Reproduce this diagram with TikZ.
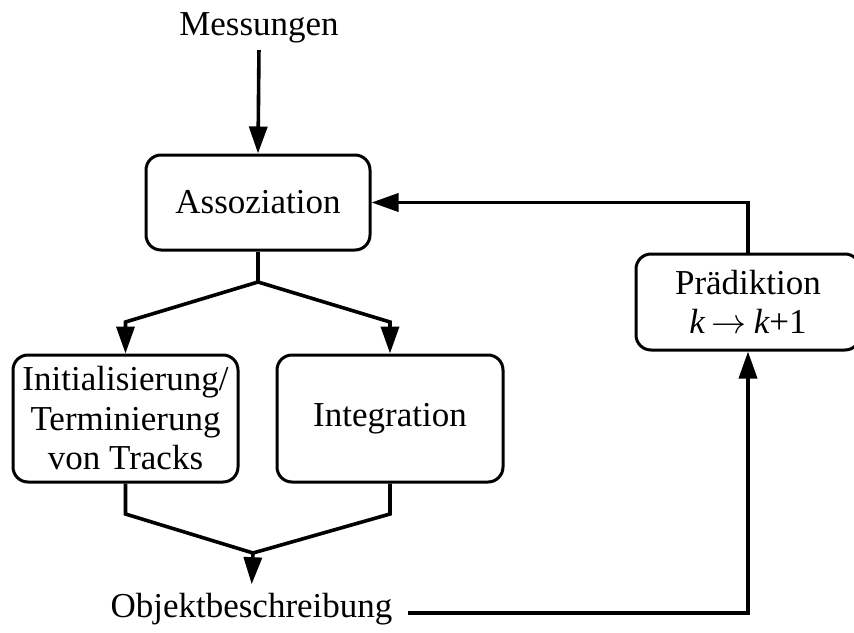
\RequirePackage{fix-cm}
\documentclass[tikz,border=0pt]{standalone}
\usepackage{fontspec}
\setmainfont{Liberation Serif}
\usetikzlibrary{arrows.meta}
\begin{document}
\begin{tikzpicture}[x=1pt,y=-1pt,
  every node/.style={font=\fontsize{35}{39.5}\selectfont, align=center},
  blockbox/.style={draw, line width=3pt, rounded corners=15pt, inner sep=0pt},
  conn/.style={line width=3.6pt},
  arr/.style={conn, -{Triangle[length=27pt,width=18pt]}}]
\useasboundingbox (0,0) rectangle (854,632);

% processing blocks
\node[blockbox, minimum width=224pt, minimum height=95pt] (asso) at (258,202.5) {Assoziation};
\node[blockbox, minimum width=225pt, minimum height=127pt] (init) at (125.5,418.5)
  {Initialisierung/\\Terminierung\\von Tracks};
\node[blockbox, minimum width=226pt, minimum height=127pt] (integ) at (390,418.5) {Integration};
\node[blockbox, minimum width=224pt, minimum height=96pt] (pred) at (748,302)
  {Prädiktion\\{\itshape k}\hspace{7pt}$\rightarrow$\hspace{7pt}{\itshape k}+1};

% inputs and outputs
\node[anchor=base] (mess) at (259,35) {Messungen};
\node[anchor=base] (obj) at (251.5,617) {Objektbeschreibung};

% helper points for the branches
\coordinate (split) at (258,282);
\coordinate (bl) at (125.5,322);
\coordinate (br) at (390,322);
\coordinate (ml) at (125.5,514);
\coordinate (mr) at (390,514);
\coordinate (join) at (253,553);
\coordinate (objout) at (408,613);

% connectors
\draw[arr, shorten <=4pt] (mess.south) -- (asso.north);
\draw[conn] (asso.south) -- (split);
\draw[arr] (split) -- (bl) -- (init.north);
\draw[arr] (split) -- (br) -- (integ.north);
\draw[conn] (init.south) -- (ml) -- (join) -- (mr) -- (integ.south);
\draw[arr, shorten >=5pt] (join) -- (obj.north);
\draw[arr] (objout) -| (pred.south);
\draw[arr] (pred.north) |- (asso.east);
\end{tikzpicture}
\end{document}
